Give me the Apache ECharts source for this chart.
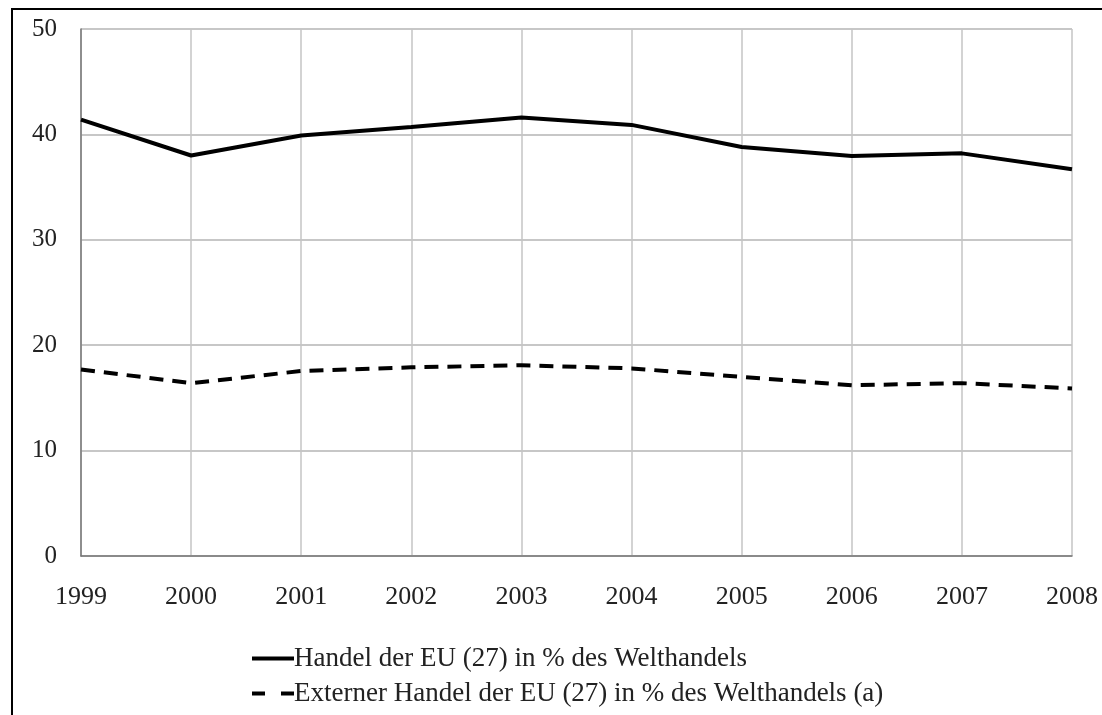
<!DOCTYPE html>
<html>
<head>
<meta charset="utf-8">
<script src="https://cdn.jsdelivr.net/npm/echarts@6/dist/echarts.min.js"></script>
<style>
  html, body { margin: 0; padding: 0; background: #fff; }
  #chart { width: 1102px; height: 715px; }
</style>
</head>
<body>
<div id="chart"></div>
<script>
  // Jahre und Werte
  var years = ['1999', '2000', '2001', '2002', '2003', '2004', '2005', '2006', '2007', '2008'];
  var handelEU = [41.4, 38.0, 39.9, 40.7, 41.6, 40.9, 38.8, 37.95, 38.2, 36.7];
  var externerHandel = [17.7, 16.4, 17.55, 17.9, 18.1, 17.8, 17.0, 16.2, 16.4, 15.9];
  var seriesNames = [
    'Handel der EU (27) in % des Welthandels',
    'Externer Handel der EU (27) in % des Welthandels (a)'
  ];

  var myChart = echarts.init(document.getElementById('chart'));
  var font = '"Liberation Serif", "DejaVu Serif", serif';

  var option = {
    animation: false,
    backgroundColor: '#fff',
    textStyle: { fontFamily: font },
    graphic: [{
      type: 'rect',
      shape: { x: 12, y: 9, width: 1200, height: 800 },
      style: { fill: 'none', stroke: '#000', lineWidth: 2 },
      silent: true
    }],
    grid: {
      left: 81,
      right: 30,
      top: 29,
      bottom: 159
    },
    legend: {
      orient: 'vertical',
      left: 245,
      top: 640,
      itemWidth: 42,
      itemHeight: 14,
      itemGap: 8,
      itemStyle: { opacity: 0 },
      lineStyle: { width: 4 },
      textStyle: { fontFamily: font, fontSize: 27, color: '#222', padding: [0, 0, 0, -5] },
      data: [
        { name: seriesNames[0] },
        { name: seriesNames[1], lineStyle: { width: 4, type: [13, 16] } }
      ]
    },
    xAxis: {
      type: 'category',
      data: years,
      boundaryGap: false,
      axisLine: { lineStyle: { color: '#777', width: 1.5 } },
      axisTick: { show: false },
      axisLabel: { color: '#222', fontSize: 26, fontFamily: font, margin: 28 },
      splitLine: { show: true, lineStyle: { color: '#c4c4c4', width: 1.5 } }
    },
    yAxis: {
      type: 'value',
      min: 0,
      max: 50,
      interval: 10,
      axisLine: { show: true, lineStyle: { color: '#777', width: 1.5 } },
      axisTick: { show: false },
      axisLabel: { color: '#222', fontSize: 25, fontFamily: font, margin: 24 },
      splitLine: { lineStyle: { color: '#b4b4b4', width: 1.5 } }
    },
    series: [
      {
        name: seriesNames[0],
        type: 'line',
        data: handelEU,
        symbol: 'none',
        lineStyle: { color: '#000', width: 4 },
        itemStyle: { color: '#000' }
      },
      {
        name: seriesNames[1],
        type: 'line',
        data: externerHandel,
        symbol: 'none',
        lineStyle: { color: '#000', width: 4, type: [14, 9] },
        itemStyle: { color: '#000' }
      }
    ]
  };
  myChart.setOption(option);
</script>
</body>
</html>
